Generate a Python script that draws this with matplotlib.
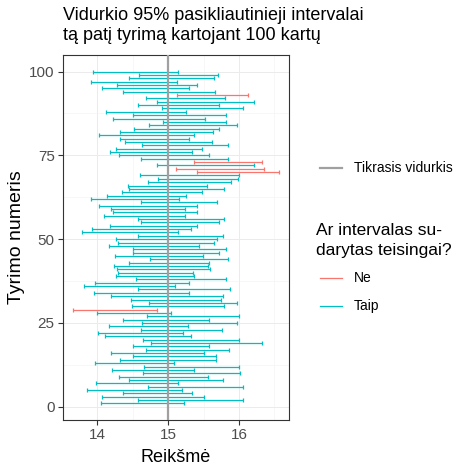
import matplotlib
matplotlib.use("Agg")
import matplotlib.pyplot as plt
from matplotlib.lines import Line2D
import numpy as np

plt.rcParams['font.family'] = ['Liberation Sans', 'DejaVu Sans']

true_mean = 15
trial = np.arange(1, 101)
lower = [14.05, 14.57, 14.07, 14.36, 13.86, 14.71, 13.98, 14.45, 14.31, 14.64,
         14.21, 14.66, 13.97, 14.32, 14.50, 14.19, 14.68, 14.51, 14.76, 14.64,
         14.11, 14.01, 14.62, 14.16, 14.63, 14.36, 14.70, 13.99, 13.66, 14.49,
         14.73, 14.48, 14.19, 13.95, 14.57, 13.81, 13.97, 14.54, 14.27, 14.29,
         14.28, 14.23, 14.45, 14.74, 14.25, 14.50, 14.50, 14.16, 14.29, 14.27,
         14.57, 13.79, 13.93, 14.18, 14.62, 14.58, 14.10, 14.22, 14.19, 14.02,
         14.61, 13.91, 14.13, 14.35, 14.45, 14.43, 14.71, 14.85, 14.60, 15.40,
         15.11, 14.84, 15.37, 14.61, 14.31, 14.18, 14.27, 14.63, 14.39, 14.32,
         14.03, 14.32, 14.52, 14.73, 14.92, 14.22, 14.50, 14.12, 14.91, 14.57,
         14.84, 14.68, 15.13, 14.36, 14.07, 14.28, 13.91, 14.45, 14.59, 13.94]
upper = [15.22, 16.06, 15.50, 15.34, 15.20, 16.06, 15.14, 15.77, 15.56, 16.01,
         15.37, 16.00, 15.08, 15.67, 15.67, 15.50, 15.86, 15.58, 16.33, 16.00,
         15.32, 15.21, 15.76, 15.28, 15.97, 15.57, 16.00, 15.04, 14.84, 15.79,
         15.97, 15.74, 15.78, 15.29, 15.87, 15.09, 15.30, 15.81, 15.36, 15.35,
         15.59, 15.56, 15.57, 15.84, 15.49, 15.71, 15.82, 15.44, 15.65, 15.69,
         15.77, 15.14, 15.32, 15.40, 15.71, 15.79, 15.23, 15.40, 15.23, 15.40,
         15.69, 15.15, 15.25, 15.48, 15.79, 15.55, 15.89, 15.98, 16.00, 16.56,
         16.35, 16.21, 16.33, 15.84, 15.57, 15.34, 15.48, 15.85, 15.62, 15.30,
         15.37, 15.63, 15.71, 15.97, 15.82, 15.52, 15.81, 15.25, 16.05, 15.71,
         16.21, 15.80, 16.13, 15.66, 15.29, 15.41, 15.12, 15.64, 15.70, 15.14]

lower = np.array(lower)
upper = np.array(upper)
ok = (lower <= true_mean) & (upper >= true_mean)

red = '#F8766D'
teal = '#00BFC4'
gray_line = '#A0A0A0'

fig = plt.figure(figsize=(4.74, 4.74), dpi=100)
ax = fig.add_axes([63/474, 1-420/474, 226/474, 365/474])

ax.set_xticks([14, 15, 16])
ax.set_xticks([13.5, 14.5, 15.5, 16.5], minor=True)
ax.set_yticks([0, 25, 50, 75, 100])
ax.set_yticks([12.5, 37.5, 62.5, 87.5], minor=True)
ax.grid(which='major', color='#EBEBEB', lw=0.7)
ax.grid(which='minor', color='#F2F2F2', lw=0.4)
ax.set_axisbelow(True)

for mask, col in [(ok, teal), (~ok, red)]:
    mid = (lower[mask] + upper[mask]) / 2
    half = (upper[mask] - lower[mask]) / 2
    ax.errorbar(mid, trial[mask], xerr=half, fmt='none', ecolor=col,
                elinewidth=0.9, capsize=1.3, capthick=0.9, zorder=2)

ax.axvline(true_mean, color=gray_line, lw=1.6, zorder=3)

lo, hi = lower.min(), upper.max()
pad = (hi - lo) * 0.05
ax.set_xlim(lo - pad, hi + pad)
ax.set_ylim(1 - 99 * 0.05, 100 + 99 * 0.05)

for s in ax.spines.values():
    s.set_color('#333333')
    s.set_linewidth(0.8)
ax.tick_params(which='major', length=3.5, width=0.8, color='#333333',
               labelcolor='#4D4D4D', labelsize=11, pad=2.5)
ax.tick_params(which='minor', length=0)

ax.set_xlabel('Reikšmė', fontsize=13, labelpad=5)
ax.set_ylabel('Tyrimo numeris', fontsize=14, labelpad=3)

fig.text(63/474, 1-16/474, 'Vidurkio 95% pasikliautinieji intervalai',
         fontsize=13, va='center', ha='left')
fig.text(63/474, 1-35.5/474, 'tą patį tyrimą kartojant 100 kartų',
         fontsize=13, va='center', ha='left')

# legends
def key(y, col, lw):
    fig.add_artist(Line2D([320/474, 342/474], [1-y/474, 1-y/474],
                          color=col, lw=lw, transform=fig.transFigure))

key(168, gray_line, 1.6)
fig.text(354/474, 1-168/474, 'Tikrasis vidurkis', fontsize=10, va='center')
fig.text(316/474, 1-231/474, 'Ar intervalas su-', fontsize=12.5, va='center')
fig.text(316/474, 1-250/474, 'darytas teisingai?', fontsize=12.5, va='center')
key(278, red, 0.9)
fig.text(354/474, 1-278/474, 'Ne', fontsize=10, va='center')
key(306, teal, 0.9)
fig.text(354/474, 1-306/474, 'Taip', fontsize=10, va='center')

fig.savefig('out.png', dpi=100)
